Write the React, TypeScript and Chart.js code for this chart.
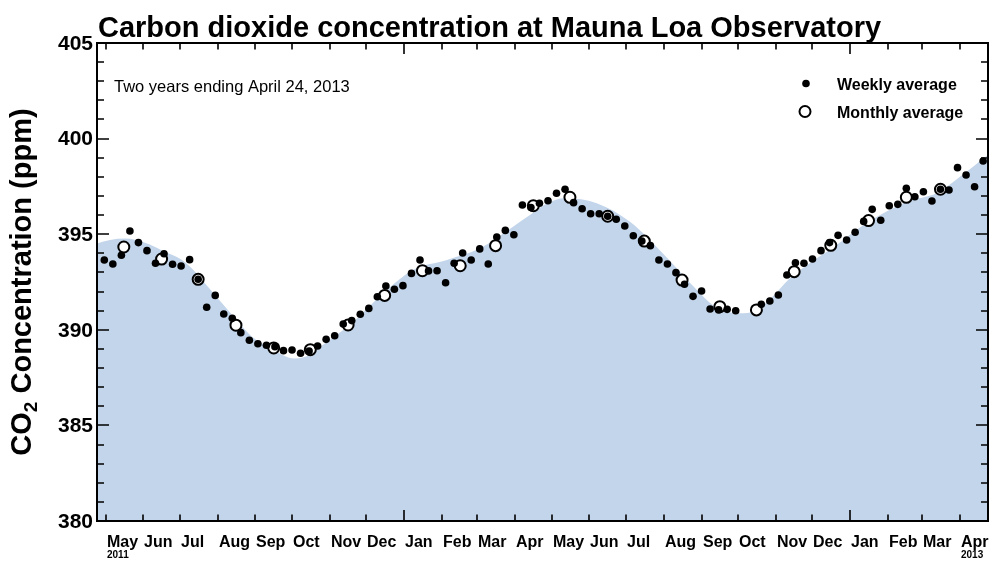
import React, { useEffect, useRef } from "react";
import { Chart, registerables } from "chart.js";

Chart.register(...registerables);

// Time axis runs in days from the start of the two-year window.
const SERIES_START = Date.UTC(2011, 3, 24); // April 24, 2011
const SERIES_DAYS = 731; // through April 24, 2013
const DAY_MS = 86400000;
const FIRST_WEEK_DAY = 6; // centre of the first weekly average

// Weekly averages (ppm), one per week; null = no data that week
const weeklyPpm: (number | null)[] = [
  393.65, 393.44, 393.9, 395.17, 394.56, 394.14, 393.48, 393.98, 393.43, 393.34,
  393.67, 392.64, 391.18, 391.8, 390.83, 390.6, 389.85, 389.45, 389.27, 389.19,
  389.12, 388.91, 388.94, 388.77, 388.89, 389.15, 389.5, 389.69, 390.3, 390.48,
  390.81, 391.12, 391.73, 392.29, 392.12, 392.31, 392.95, 393.65, 393.08, 393.09,
  392.46, 393.48, 394.02, 393.65, 394.23, 393.44, 394.85, 395.2, 394.97, 396.53,
  396.39, 396.62, 396.75, 397.14, 397.35, 396.65, 396.33, 396.07, 396.07, 395.94,
  395.78, 395.43, 394.92, 394.64, 394.4, 393.65, 393.44, 392.99, 392.38, 391.75,
  392.03, 391.09, 391.04, 391.07, 391.0, null, null, 391.33, 391.51, 391.82,
  392.87, 393.51, 393.48, 393.7, 394.14, 394.56, 394.94, 394.7, 395.1, 395.67,
  396.3, 395.73, 396.49, 396.56, 397.4, 396.96, 397.22, 396.74, 397.35, 397.31,
  398.48, 398.1, 397.48, 398.83,
];

// Monthly averages (ppm)
const monthlyMonths = [
  "2011-05", "2011-06", "2011-07", "2011-08", "2011-09", "2011-10", "2011-11", "2011-12",
  "2012-01", "2012-02", "2012-03", "2012-04", "2012-05", "2012-06", "2012-07", "2012-08",
  "2012-09", "2012-10", "2012-11", "2012-12", "2013-01", "2013-02", "2013-03",
];
const monthlyPpm = [
  394.33, 393.7, 392.64, 390.24, 389.05, 388.96, 390.25, 391.8,
  393.09, 393.35, 394.4, 396.49, 396.93, 395.94, 394.64, 392.6,
  391.21, 391.04, 393.04, 394.42, 395.71, 396.93, 397.35,
];

// Smoothed seasonal curve (day offset, ppm) for the shaded area
const fitDays = [
  0, 10.7, 23, 39.4, 53.3, 69.7, 80.4, 91, 102.6, 115.7, 127.2, 140.3, 162.4, 174.7,
  183, 210, 236.3, 259.3, 287.1, 314.2, 341.3, 355.2, 369.2, 384, 410, 437.3, 464.3,
  492.2, 505.3, 527.5, 539.8, 552.1, 568.5, 587.4, 603.8, 631.7, 664.5, 689.1, 708, 731,
];
const fitPpm = [
  394.52, 394.7, 394.77, 394.55, 394.15, 393.65, 393.04, 392.25, 391.39, 390.42, 389.64,
  389.12, 388.5, 388.7, 389.1, 390.4, 392.0, 393.13, 393.65, 394.26, 395.39, 396.0,
  396.62, 396.88, 396.62, 395.65, 393.99, 392.08, 391.3, 390.86, 391.0, 391.6, 392.7,
  393.6, 394.3, 395.6, 396.7, 397.15, 398.0, 399.15,
];

const yTickLabels = ["380", "385", "390", "395", "400", "405"];
const monthNames = ["Jan", "Feb", "Mar", "Apr", "May", "Jun", "Jul", "Aug", "Sep", "Oct", "Nov", "Dec"];

const TITLE = "Carbon dioxide concentration at Mauna Loa Observatory";
const SUBTITLE = "Two years ending April 24, 2013";
const FONT = '"Liberation Sans", Arial, Helvetica, sans-serif';
const FILL_COLOR = "#c3d5ea";

const dayOf = (y: number, m: number, d: number) => (Date.UTC(y, m, d) - SERIES_START) / DAY_MS;

const axesPlugin = {
  id: "framedAxes",
  afterDatasetsDraw(chart: any) {
    const { ctx, chartArea: a, scales } = chart;
    const xs = scales.x;
    const ys = scales.y;
    ctx.save();
    ctx.strokeStyle = "#000";
    ctx.fillStyle = "#000";

    // inward ticks on the value axis, both sides
    ctx.lineWidth = 1.6;
    for (let v = 380; v <= 405; v++) {
      const py = Math.round(ys.getPixelForValue(v));
      const len = v % 5 === 0 ? 12 : 7;
      ctx.beginPath();
      ctx.moveTo(a.left, py);
      ctx.lineTo(a.left + len, py);
      ctx.moveTo(a.right - len, py);
      ctx.lineTo(a.right, py);
      ctx.stroke();
    }

    // month ticks top and bottom, labels below
    const endDate = new Date(SERIES_START + SERIES_DAYS * DAY_MS);
    let yr = 2011;
    let mo = 4;
    const firstYear = yr;
    while (Date.UTC(yr, mo, 1) <= endDate.getTime()) {
      const d = dayOf(yr, mo, 1);
      const px = Math.round(xs.getPixelForValue(d));
      const len = mo === 0 ? 11 : 6.5;
      ctx.beginPath();
      ctx.moveTo(px, a.bottom);
      ctx.lineTo(px, a.bottom - len);
      ctx.moveTo(px, a.top);
      ctx.lineTo(px, a.top + len);
      ctx.stroke();

      ctx.font = `bold 16px ${FONT}`;
      ctx.textAlign = "left";
      ctx.textBaseline = "alphabetic";
      ctx.fillText(monthNames[mo], px + 1, 546.5);
      const isFirst = yr === firstYear && mo === 4;
      const nextStart = Date.UTC(mo === 11 ? yr + 1 : yr, (mo + 1) % 12, 1);
      const isLast = nextStart > endDate.getTime();
      if (isFirst || isLast) {
        ctx.font = `bold 10px ${FONT}`;
        ctx.fillText(String(yr), px + 1, 558);
      }
      mo++;
      if (mo > 11) {
        mo = 0;
        yr++;
      }
    }

    // frame
    ctx.lineWidth = 2;
    ctx.strokeRect(a.left, a.top, a.right - a.left, a.bottom - a.top);

    // value labels
    ctx.font = `bold 21px ${FONT}`;
    ctx.textAlign = "right";
    ctx.textBaseline = "middle";
    yTickLabels.forEach((t) => {
      ctx.fillText(t, a.left - 4, ys.getPixelForValue(Number(t)) + 1);
    });

    // title
    ctx.textAlign = "left";
    ctx.textBaseline = "alphabetic";
    ctx.font = `bold 29px ${FONT}`;
    ctx.fillText(TITLE, 98, 37);

    // subtitle
    ctx.font = `16.5px ${FONT}`;
    ctx.fillText(SUBTITLE, 114, 91.5);

    // legend
    ctx.beginPath();
    ctx.arc(806, 83.5, 3.8, 0, Math.PI * 2);
    ctx.fill();
    ctx.beginPath();
    ctx.arc(805, 111.5, 5.5, 0, Math.PI * 2);
    ctx.fillStyle = "#fff";
    ctx.fill();
    ctx.lineWidth = 2;
    ctx.stroke();
    ctx.fillStyle = "#000";
    ctx.font = `bold 16px ${FONT}`;
    ctx.fillText("Weekly average", 837, 89.5);
    ctx.fillText("Monthly average", 837, 117.5);

    // rotated axis title with subscript
    ctx.save();
    ctx.translate(31, (a.top + a.bottom) / 2);
    ctx.rotate(-Math.PI / 2);
    const big = `bold 29px ${FONT}`;
    const small = `bold 19px ${FONT}`;
    ctx.font = big;
    const w1 = ctx.measureText("CO").width;
    const w3 = ctx.measureText(" Concentration (ppm)").width;
    ctx.font = small;
    const w2 = ctx.measureText("2").width;
    let cx = -(w1 + w2 + w3) / 2;
    ctx.textAlign = "left";
    ctx.font = big;
    ctx.fillText("CO", cx, 0);
    cx += w1;
    ctx.font = small;
    ctx.fillText("2", cx, 6);
    cx += w2;
    ctx.font = big;
    ctx.fillText(" Concentration (ppm)", cx, 0);
    ctx.restore();

    ctx.restore();
  },
};

export default function App() {
  const canvasRef = useRef<HTMLCanvasElement | null>(null);

  useEffect(() => {
    if (!canvasRef.current) return;

    const weekly = weeklyPpm
      .map((v, i) => ({ x: FIRST_WEEK_DAY + 7 * i, y: v }))
      .filter((p) => p.y !== null) as { x: number; y: number }[];
    const monthly = monthlyMonths.map((m, i) => {
      const [yy, mm] = m.split("-").map(Number);
      return { x: dayOf(yy, mm - 1, 16), y: monthlyPpm[i] };
    });
    const fit = fitDays.map((d, i) => ({ x: d, y: fitPpm[i] }));

    const chart = new Chart(canvasRef.current, {
      type: "scatter",
      data: {
        datasets: [
          {
            label: "Weekly average",
            data: weekly,
            pointRadius: 3.8,
            pointBackgroundColor: "#000",
            pointBorderWidth: 0,
            pointBorderColor: "#000",
            order: 0,
          },
          {
            label: "Monthly average",
            data: monthly,
            pointRadius: 5.5,
            pointBackgroundColor: "#fff",
            pointBorderColor: "#000",
            pointBorderWidth: 2,
            order: 1,
          },
          {
            type: "line",
            label: "Seasonal curve",
            data: fit,
            showLine: true,
            pointRadius: 0,
            borderWidth: 0,
            borderColor: "rgba(0,0,0,0)",
            backgroundColor: FILL_COLOR,
            fill: "start",
            cubicInterpolationMode: "monotone",
            order: 2,
          } as any,
        ],
      },
      options: {
        responsive: false,
        animation: false,
        events: [],
        layout: { padding: { left: 97, top: 43, right: 12, bottom: 43 } },
        scales: {
          x: { type: "linear", min: 0, max: SERIES_DAYS, display: false },
          y: { type: "linear", min: 380, max: 405, display: false },
        },
        plugins: {
          legend: { display: false },
          tooltip: { enabled: false },
        },
      },
      plugins: [axesPlugin],
    });

    return () => chart.destroy();
  }, []);

  return (
    <div style={{ position: "absolute", left: 0, top: 0, width: 1000, height: 564, background: "#fff" }}>
      <canvas ref={canvasRef} width={1000} height={564} style={{ display: "block" }} />
    </div>
  );
}
